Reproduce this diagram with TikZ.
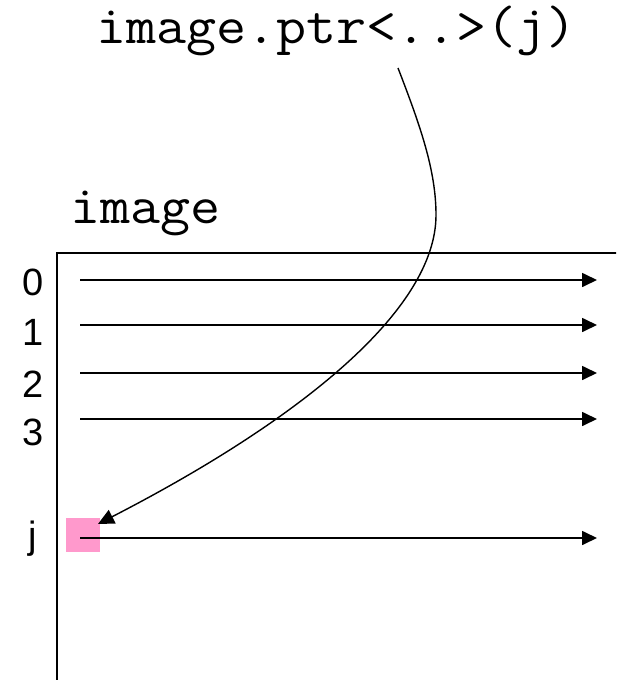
\documentclass[tikz,border=0pt]{standalone}
\usepackage{fontspec}
\setmainfont{Liberation Sans}
\usetikzlibrary{arrows.meta}
\begin{document}
\begin{tikzpicture}[x=1pt,y=-1pt,
  rowarrow/.style={line width=1.7pt,-{Triangle[length=15pt,width=14pt]}},
  ptrarrow/.style={line width=1.4pt,-{Triangle[length=16pt,width=15pt]}},
  frame/.style={line width=1.8pt},
  idx/.style={font=\fontsize{38}{38}\selectfont,inner sep=0pt,anchor=base},
  code/.style={font=\ttfamily\fontsize{54}{54}\selectfont,xscale=1.08,inner sep=0pt,anchor=base west,text height=36pt,text depth=10pt}]
\useasboundingbox (0,0) rectangle (616,680);
\begin{scope}
\clip (0,0) rectangle (616,680);
% image frame
\draw[frame] (620,253) -- (57,253) -- (57,690);
% pink element
\fill[fill={rgb,255:red,255;green,153;blue,204}] (66,518) rectangle (100,552);
% rows
\foreach \n/\y in {r0/280,r1/325,r2/373,r3/419,rj/538}{
  \coordinate (\n s) at (80,\y);
  \coordinate (\n e) at (597,\y);
  \draw[rowarrow] (\n s) -- (\n e);
}
\end{scope}
% labels
\node[idx] (l0) at (33,295) {0};
\node[idx] (l1) at (33,345) {1};
\node[idx] (l2) at (33,397) {2};
\node[idx] (l3) at (33,445) {3};
\node[idx] (lj) at (33,548) {j};
\node[code] (img) at (70,223) {image};
\node[code] (ptr) at (96,43) {image.ptr<..>(j)};
% pointer curve
\coordinate (cs) at (398,68);
\coordinate (cm) at (436,215);
\coordinate (ce) at (98,524);
\draw[ptrarrow] (cs) .. controls (420,125) and (436,170) .. (cm)
  .. controls (436,310) and (300,420) .. (ce);
\end{tikzpicture}
\end{document}
